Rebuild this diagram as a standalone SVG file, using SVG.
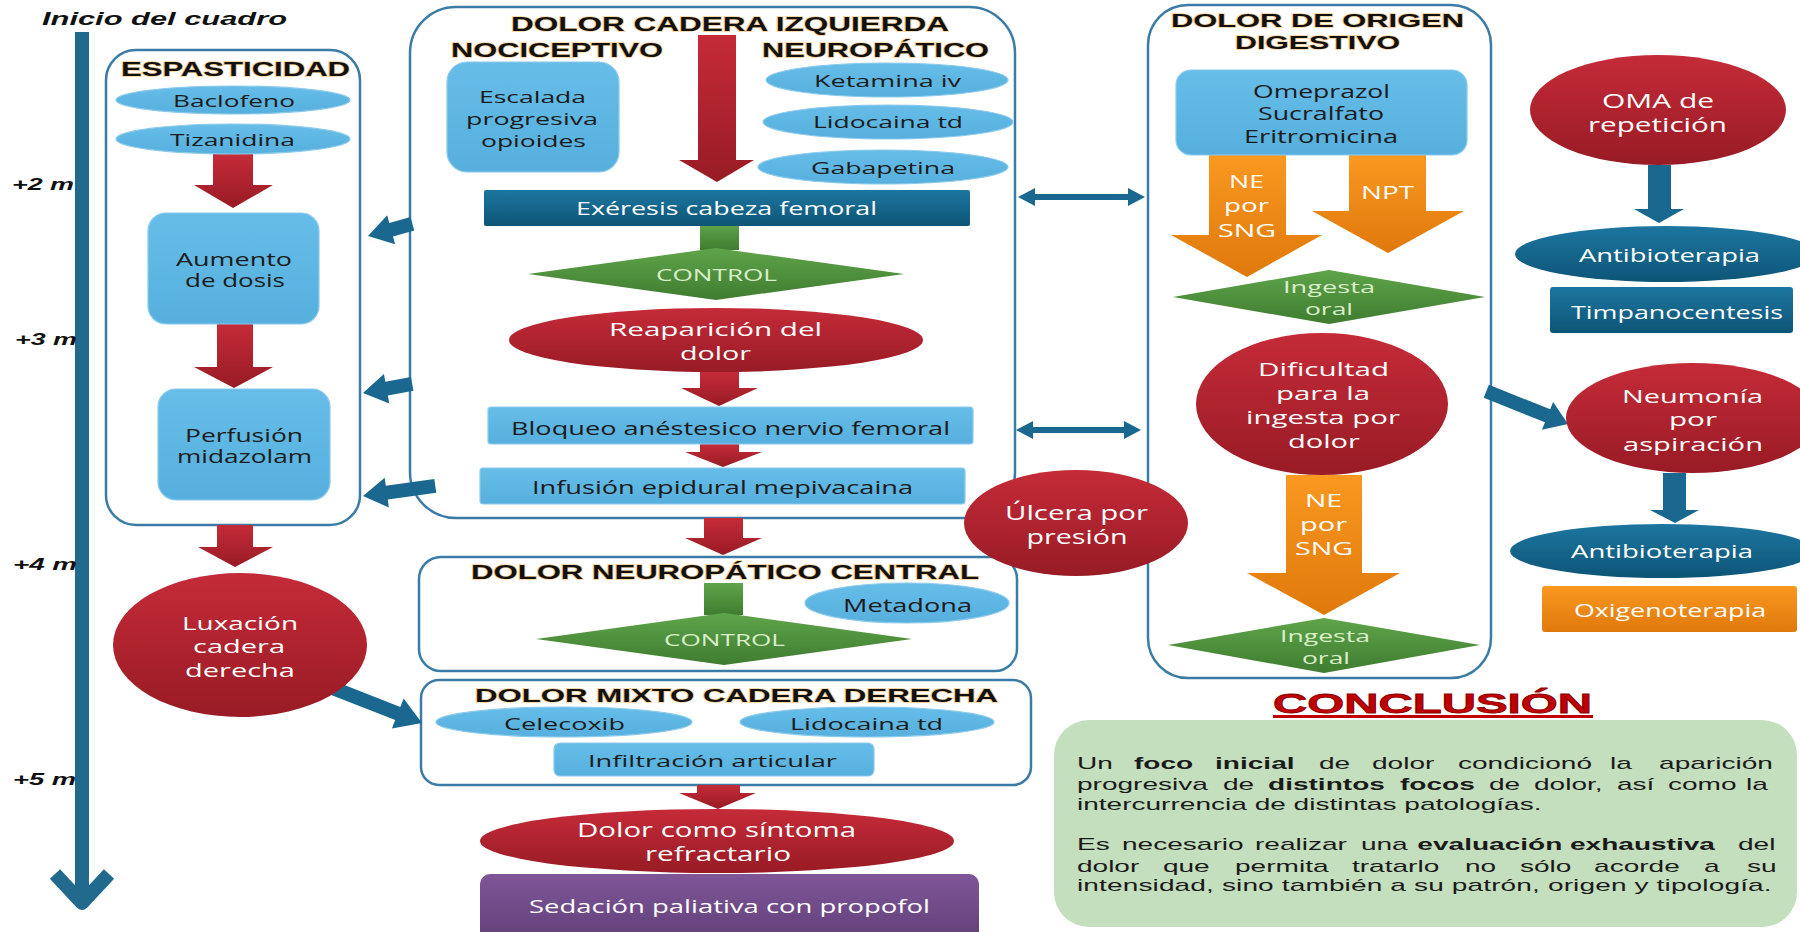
<svg xmlns="http://www.w3.org/2000/svg" width="1800" height="932" viewBox="0 0 1800 932">
<defs>
<linearGradient id="gRed" x1="0" y1="0" x2="0" y2="1"><stop offset="0" stop-color="#c52b38"/><stop offset="1" stop-color="#981b25"/></linearGradient>
<linearGradient id="gBlue" x1="0" y1="0" x2="0" y2="1"><stop offset="0" stop-color="#1d76a0"/><stop offset="1" stop-color="#0d5577"/></linearGradient>
<linearGradient id="gGreen" x1="0" y1="0" x2="0" y2="1"><stop offset="0" stop-color="#5fa44a"/><stop offset="1" stop-color="#3f7c30"/></linearGradient>
<linearGradient id="gOrange" x1="0" y1="0" x2="0" y2="1"><stop offset="0" stop-color="#fa9820"/><stop offset="1" stop-color="#df790c"/></linearGradient>
<linearGradient id="gPurple" x1="0" y1="0" x2="0" y2="1"><stop offset="0" stop-color="#7f5699"/><stop offset="1" stop-color="#5f3f76"/></linearGradient>
<linearGradient id="gLB" x1="0" y1="0" x2="0" y2="1"><stop offset="0" stop-color="#66bde8"/><stop offset="1" stop-color="#56afdd"/></linearGradient>
</defs>
<style>
.cont{fill:#fff;stroke:#3a7ca6;stroke-width:2.5}
.lb{fill:url(#gLB);stroke:#8ccaeb;stroke-width:1.2}
.red{fill:url(#gRed)}
.blue{fill:url(#gBlue)}
.green{fill:url(#gGreen)}
.orange{fill:url(#gOrange)}
.hd{font-family:"Liberation Sans",Arial,sans-serif;font-weight:bold;fill:#111;stroke:#f4b860;stroke-width:1.4;stroke-opacity:0.7;paint-order:stroke;text-anchor:middle}
.t{font-family:"Open Sans","Liberation Sans",sans-serif;text-anchor:middle}
.dk{fill:#1b1b1b}
.wh{fill:#fff}
.ctl{fill:#d9efc9}
.tl{font-family:"Liberation Sans",Arial,sans-serif;font-weight:bold;font-style:italic;fill:#111}
.cc{font-family:"Liberation Sans",Arial,sans-serif;font-size:17px;fill:#1a1a1a}
.b{font-weight:bold}
.arrRed{fill:url(#gRed)}
.arrBlue{fill:#1a6890}
</style>

<!-- timeline -->
<g id="timeline">
<text class="tl" x="42" y="25" font-size="18" textLength="245" lengthAdjust="spacingAndGlyphs">Inicio del cuadro</text>
<rect x="75" y="32" width="14" height="868" fill="#216a8e"/>
<polyline points="55,874 82,903 109,874" fill="none" stroke="#216a8e" stroke-width="14" stroke-linejoin="round"/>
<text class="tl" x="12" y="190" font-size="17" textLength="62" lengthAdjust="spacingAndGlyphs">+2 m</text>
<text class="tl" x="15" y="345" font-size="17" textLength="62" lengthAdjust="spacingAndGlyphs">+3 m</text>
<text class="tl" x="13" y="570" font-size="17" textLength="64" lengthAdjust="spacingAndGlyphs">+4 m</text>
<text class="tl" x="13" y="785" font-size="17" textLength="63" lengthAdjust="spacingAndGlyphs">+5 m</text>
</g>

<!-- containers -->
<g id="espasticidad">
<rect class="cont" x="106" y="50" width="254" height="475" rx="30"/>
<text class="hd" x="235.5" y="76" font-size="20" textLength="229" lengthAdjust="spacingAndGlyphs">ESPASTICIDAD</text>
</g>
<g id="dolor-cadera-izquierda">
<rect class="cont" x="410" y="7" width="605" height="511" rx="46"/>
<text class="hd" x="730" y="31" font-size="20" textLength="438" lengthAdjust="spacingAndGlyphs">DOLOR  CADERA IZQUIERDA</text>
<text class="hd" x="557" y="57" font-size="20" textLength="212" lengthAdjust="spacingAndGlyphs">NOCICEPTIVO</text>
<text class="hd" x="875.5" y="57" font-size="20" textLength="227" lengthAdjust="spacingAndGlyphs">NEUROPÁTICO</text>
</g>
<g id="dolor-neuropatico-central">
<rect class="cont" x="419" y="557" width="598" height="114" rx="22"/>
<text class="hd" x="725" y="579" font-size="20" textLength="508" lengthAdjust="spacingAndGlyphs">DOLOR NEUROPÁTICO CENTRAL</text>
</g>
<g id="dolor-mixto">
<rect class="cont" x="421" y="680" width="610" height="105" rx="18"/>
<text class="hd" x="736.5" y="702" font-size="19" textLength="523" lengthAdjust="spacingAndGlyphs">DOLOR MIXTO CADERA DERECHA</text>
</g>
<g id="dolor-digestivo">
<rect class="cont" x="1148" y="5" width="343" height="673" rx="40"/>
<text class="hd" x="1317.5" y="27" font-size="19" textLength="293" lengthAdjust="spacingAndGlyphs">DOLOR DE ORIGEN</text>
<text class="hd" x="1317.5" y="49" font-size="19" textLength="165" lengthAdjust="spacingAndGlyphs">DIGESTIVO</text>
</g>

<!-- connectors -->
<g id="connectors">
<polygon class="arrRed" points="213,154 253,154 253,185 273,185 233,208 194,185 213,185"/>
<polygon class="arrRed" points="217,324 253,324 253,367 273,367 234,388 194,367 217,367"/>
<polygon class="arrRed" points="217,525 253,525 253,547 273,547 235,567 198,547 217,547"/>
<polygon class="arrRed" points="698,35 736,35 736,160 754,160 717,182 679,160 698,160"/>
<polygon class="arrRed" points="700,372 739,372 739,388 758,388 719,406 681,388 700,388"/>
<polygon class="arrRed" points="700,444 739,444 739,452 762,452 723,467 685,452 700,452"/>
<polygon class="arrRed" points="704,518 743,518 743,538 762,538 723,555 685,538 704,538"/>
<polygon class="arrRed" points="697,785 740,785 740,793 756,793 718,809 679,793 697,793"/>
<polygon class="orange" points="1209,155 1286,155 1286,235 1322,235 1247,277 1171,235 1209,235"/>
<polygon class="orange" points="1349,155 1426,155 1426,211 1464,211 1388,253 1312,211 1349,211"/>
<polygon class="orange" points="1286,475 1362,475 1362,573 1400,573 1324,615 1247,573 1286,573"/>
<polygon class="arrBlue" points="1648,165 1671,165 1671,209 1684,209 1659,223 1634,209 1648,209"/>
<polygon class="arrBlue" points="1663,473 1686,473 1686,510 1699,510 1675,523 1650,510 1663,510"/>
<rect class="green" x="700" y="224" width="39" height="26"/>
<rect class="green" x="704" y="583" width="39" height="32"/>
<polygon class="arrBlue" transform="translate(368,236) rotate(164.7)" points="-46,-7 -24,-7 -24,-15 0,0 -24,15 -24,7 -46,7"/>
<polygon class="arrBlue" transform="translate(363,393) rotate(169.6)" points="-50,-7 -24,-7 -24,-15 0,0 -24,15 -24,7 -50,7"/>
<polygon class="arrBlue" transform="translate(363,496) rotate(172)" points="-73,-7 -24,-7 -24,-15 0,0 -24,15 -24,7 -73,7"/>
<polygon class="arrBlue" transform="translate(422,723) rotate(21.4)" points="-110,-7 -26,-7 -26,-16 0,0 -26,16 -26,7 -110,7"/>
<polygon class="arrBlue" transform="translate(1568,424) rotate(21.8)" points="-88,-7 -22,-7 -22,-15 0,0 -22,15 -22,7 -88,7"/>
<g class="arrBlue">
<rect x="1030" y="194" width="103" height="6"/>
<polygon points="1018,197 1035,188 1035,206"/>
<polygon points="1145,197 1128,188 1128,206"/>
<rect x="1028" y="427" width="101" height="6"/>
<polygon points="1016,430 1033,421 1033,439"/>
<polygon points="1141,430 1124,421 1124,439"/>
</g>
</g>

<!-- nodes: espasticidad -->
<g id="baclofeno"><ellipse class="lb" cx="233" cy="100" rx="117" ry="14"/><text class="t dk" x="234" y="107" font-size="17" textLength="122" lengthAdjust="spacingAndGlyphs">Baclofeno</text></g>
<g id="tizanidina"><ellipse class="lb" cx="233" cy="139" rx="117" ry="15"/><text class="t dk" x="232.5" y="146" font-size="17" textLength="125" lengthAdjust="spacingAndGlyphs">Tizanidina</text></g>
<g id="aumento-dosis"><rect class="lb" x="148" y="213" width="171" height="111" rx="18"/><text class="t dk" x="234" y="266" font-size="18" textLength="116" lengthAdjust="spacingAndGlyphs">Aumento</text><text class="t dk" x="235" y="287" font-size="18" textLength="100" lengthAdjust="spacingAndGlyphs">de dosis</text></g>
<g id="perfusion-midazolam"><rect class="lb" x="158" y="389" width="172" height="111" rx="18"/><text class="t dk" x="244" y="442" font-size="18" textLength="118" lengthAdjust="spacingAndGlyphs">Perfusión</text><text class="t dk" x="244.5" y="463" font-size="18" textLength="135" lengthAdjust="spacingAndGlyphs">midazolam</text></g>
<g id="luxacion"><ellipse class="red" cx="240" cy="645" rx="127" ry="72"/><text class="t wh" x="240" y="630" font-size="19" textLength="116" lengthAdjust="spacingAndGlyphs">Luxación</text><text class="t wh" x="239" y="653" font-size="19" textLength="92" lengthAdjust="spacingAndGlyphs">cadera</text><text class="t wh" x="240" y="677" font-size="19" textLength="110" lengthAdjust="spacingAndGlyphs">derecha</text></g>

<!-- nodes: cadera izquierda -->
<g id="escalada"><rect class="lb" x="447" y="62" width="172" height="110" rx="20"/><text class="t dk" x="532.5" y="103" font-size="17" textLength="107" lengthAdjust="spacingAndGlyphs">Escalada</text><text class="t dk" x="532" y="125" font-size="17" textLength="132" lengthAdjust="spacingAndGlyphs">progresiva</text><text class="t dk" x="533.5" y="147" font-size="17" textLength="105" lengthAdjust="spacingAndGlyphs">opioides</text></g>
<g id="ketamina"><ellipse class="lb" cx="887" cy="80" rx="121" ry="17"/><text class="t dk" x="887.5" y="87" font-size="17" textLength="147" lengthAdjust="spacingAndGlyphs">Ketamina iv</text></g>
<g id="lidocaina1"><ellipse class="lb" cx="888" cy="122" rx="125" ry="17"/><text class="t dk" x="888" y="128" font-size="17" textLength="150" lengthAdjust="spacingAndGlyphs">Lidocaina td</text></g>
<g id="gabapetina"><ellipse class="lb" cx="883" cy="167" rx="125" ry="17"/><text class="t dk" x="883" y="174" font-size="17" textLength="144" lengthAdjust="spacingAndGlyphs">Gabapetina</text></g>
<g id="exeresis"><rect class="blue" x="484" y="190" width="486" height="36" rx="2"/><text class="t wh" x="726.5" y="215" font-size="18" textLength="301" lengthAdjust="spacingAndGlyphs">Exéresis cabeza femoral</text></g>
<g id="control1"><polygon class="green" points="528,274 716,248 904,274 716,300"/><text class="t ctl" x="716.5" y="281" font-size="17" textLength="121" lengthAdjust="spacingAndGlyphs">CONTROL</text></g>
<g id="reaparicion"><ellipse class="red" cx="716" cy="340" rx="207" ry="32"/><text class="t wh" x="715.5" y="336" font-size="19" textLength="213" lengthAdjust="spacingAndGlyphs">Reaparición del</text><text class="t wh" x="715.5" y="360" font-size="19" textLength="71" lengthAdjust="spacingAndGlyphs">dolor</text></g>
<g id="bloqueo"><rect class="lb" x="488" y="407" width="485" height="37" rx="3"/><text class="t dk" x="730.5" y="435" font-size="18" textLength="439" lengthAdjust="spacingAndGlyphs">Bloqueo anéstesico nervio femoral</text></g>
<g id="infusion"><rect class="lb" x="480" y="468" width="485" height="36" rx="3"/><text class="t dk" x="722.5" y="494" font-size="18" textLength="381" lengthAdjust="spacingAndGlyphs">Infusión epidural mepivacaina</text></g>

<!-- nodes: neuropatico central -->
<g id="metadona"><ellipse class="lb" cx="907" cy="603" rx="102" ry="20"/><text class="t dk" x="907.5" y="612" font-size="18" textLength="129" lengthAdjust="spacingAndGlyphs">Metadona</text></g>
<g id="control2"><polygon class="green" points="536,639 724,613 912,639 724,665"/><text class="t ctl" x="724.5" y="646" font-size="17" textLength="121" lengthAdjust="spacingAndGlyphs">CONTROL</text></g>

<!-- nodes: mixto -->
<g id="celecoxib"><ellipse class="lb" cx="564" cy="722" rx="128" ry="15"/><text class="t dk" x="564.5" y="730" font-size="17" textLength="121" lengthAdjust="spacingAndGlyphs">Celecoxib</text></g>
<g id="lidocaina2"><ellipse class="lb" cx="867" cy="722" rx="127" ry="15"/><text class="t dk" x="866.5" y="730" font-size="17" textLength="153" lengthAdjust="spacingAndGlyphs">Lidocaina td</text></g>
<g id="infiltracion"><rect class="lb" x="554" y="743" width="320" height="33" rx="6"/><text class="t dk" x="712.5" y="767" font-size="17" textLength="249" lengthAdjust="spacingAndGlyphs">Infiltración articular</text></g>
<g id="dolor-refractario"><ellipse class="red" cx="717" cy="841" rx="237" ry="32"/><text class="t wh" x="716.5" y="837" font-size="20" textLength="279" lengthAdjust="spacingAndGlyphs">Dolor como síntoma</text><text class="t wh" x="718" y="861" font-size="20" textLength="146" lengthAdjust="spacingAndGlyphs">refractario</text></g>
<g id="sedacion"><rect x="480" y="874" width="499" height="70" rx="10" fill="url(#gPurple)"/><text class="t wh" x="729.5" y="913" font-size="18" textLength="401" lengthAdjust="spacingAndGlyphs">Sedación paliativa con propofol</text></g>

<!-- nodes: digestivo -->
<g id="omeprazol"><rect class="lb" x="1176" y="70" width="291" height="85" rx="15"/><text class="t dk" x="1321.5" y="98" font-size="18" textLength="137" lengthAdjust="spacingAndGlyphs">Omeprazol</text><text class="t dk" x="1321" y="120" font-size="18" textLength="126" lengthAdjust="spacingAndGlyphs">Sucralfato</text><text class="t dk" x="1321" y="143" font-size="18" textLength="154" lengthAdjust="spacingAndGlyphs">Eritromicina</text></g>
<g id="ne-sng1"><text class="t wh" x="1246.5" y="188" font-size="19" textLength="35" lengthAdjust="spacingAndGlyphs">NE</text><text class="t wh" x="1246.5" y="212" font-size="19" textLength="45" lengthAdjust="spacingAndGlyphs">por</text><text class="t wh" x="1247" y="237" font-size="19" textLength="58" lengthAdjust="spacingAndGlyphs">SNG</text></g>
<g id="npt"><text class="t wh" x="1387.5" y="199" font-size="19" textLength="53" lengthAdjust="spacingAndGlyphs">NPT</text></g>
<g id="ingesta1"><polygon class="green" points="1173,297 1329,270 1485,297 1329,324"/><text class="t ctl" x="1329" y="293" font-size="17" textLength="92" lengthAdjust="spacingAndGlyphs">Ingesta</text><text class="t ctl" x="1329" y="315" font-size="17" textLength="48" lengthAdjust="spacingAndGlyphs">oral</text></g>
<g id="dificultad"><ellipse class="red" cx="1322" cy="404" rx="126" ry="71"/><text class="t wh" x="1323.5" y="376" font-size="19" textLength="131" lengthAdjust="spacingAndGlyphs">Dificultad</text><text class="t wh" x="1323" y="400" font-size="19" textLength="94" lengthAdjust="spacingAndGlyphs">para la</text><text class="t wh" x="1323" y="424" font-size="19" textLength="154" lengthAdjust="spacingAndGlyphs">ingesta por</text><text class="t wh" x="1324" y="448" font-size="19" textLength="72" lengthAdjust="spacingAndGlyphs">dolor</text></g>
<g id="ne-sng2"><text class="t wh" x="1323.5" y="507" font-size="19" textLength="37" lengthAdjust="spacingAndGlyphs">NE</text><text class="t wh" x="1323.5" y="531" font-size="19" textLength="47" lengthAdjust="spacingAndGlyphs">por</text><text class="t wh" x="1324" y="555" font-size="19" textLength="58" lengthAdjust="spacingAndGlyphs">SNG</text></g>
<g id="ingesta2"><polygon class="green" points="1168,645 1324,618 1480,645 1324,673"/><text class="t ctl" x="1325" y="642" font-size="17" textLength="90" lengthAdjust="spacingAndGlyphs">Ingesta</text><text class="t ctl" x="1326" y="664" font-size="17" textLength="48" lengthAdjust="spacingAndGlyphs">oral</text></g>

<g id="ulcera"><ellipse class="red" cx="1076" cy="523" rx="112" ry="53"/><text class="t wh" x="1076.5" y="520" font-size="20" textLength="143" lengthAdjust="spacingAndGlyphs">Úlcera por</text><text class="t wh" x="1077" y="544" font-size="20" textLength="101" lengthAdjust="spacingAndGlyphs">presión</text></g>

<!-- nodes: right column -->
<g id="oma"><ellipse class="red" cx="1658" cy="110" rx="128" ry="55"/><text class="t wh" x="1658" y="108" font-size="20" textLength="112" lengthAdjust="spacingAndGlyphs">OMA de</text><text class="t wh" x="1657.5" y="132" font-size="20" textLength="139" lengthAdjust="spacingAndGlyphs">repetición</text></g>
<g id="antibioterapia1"><ellipse class="blue" cx="1666" cy="254" rx="151" ry="28"/><text class="t wh" x="1669.5" y="262" font-size="18" textLength="181" lengthAdjust="spacingAndGlyphs">Antibioterapia</text></g>
<g id="timpanocentesis"><rect class="blue" x="1550" y="287" width="243" height="46" rx="3"/><text class="t wh" x="1677" y="319" font-size="18" textLength="212" lengthAdjust="spacingAndGlyphs">Timpanocentesis</text></g>
<g id="neumonia"><ellipse class="red" cx="1693" cy="418" rx="127" ry="55"/><text class="t wh" x="1692.5" y="403" font-size="19" textLength="141" lengthAdjust="spacingAndGlyphs">Neumonía</text><text class="t wh" x="1693" y="426" font-size="19" textLength="48" lengthAdjust="spacingAndGlyphs">por</text><text class="t wh" x="1693" y="451" font-size="19" textLength="140" lengthAdjust="spacingAndGlyphs">aspiración</text></g>
<g id="antibioterapia2"><ellipse class="blue" cx="1662" cy="551" rx="152" ry="27"/><text class="t wh" x="1662" y="558" font-size="18" textLength="182" lengthAdjust="spacingAndGlyphs">Antibioterapia</text></g>
<g id="oxigenoterapia"><rect class="orange" x="1542" y="586" width="255" height="46" rx="3"/><text class="t wh" x="1670" y="617" font-size="18" textLength="192" lengthAdjust="spacingAndGlyphs">Oxigenoterapia</text></g>

<!-- conclusion -->
<g id="conclusion">
<text x="1432.5" y="713" font-family="'Liberation Sans',Arial,sans-serif" font-weight="bold" font-size="28" fill="#c00000" stroke="#8a0000" stroke-width="0.8" text-anchor="middle" textLength="319" lengthAdjust="spacingAndGlyphs">CONCLUSIÓN</text>
<rect x="1273" y="715" width="320" height="3" fill="#c00000"/>
<rect x="1054" y="720" width="743" height="207" rx="35" fill="#c4dfbd"/>
<g transform="scale(1.65 1)" class="cc">
<text y="769"><tspan x="652.7">Un</tspan><tspan class="b" x="687.3">foco</tspan><tspan class="b" x="736.4">inicial</tspan><tspan x="799.4">de</tspan><tspan x="831.5">dolor</tspan><tspan x="883.6">condicionó</tspan><tspan x="975.8">la</tspan><tspan x="1005.5">aparición</tspan></text>
<text y="790"><tspan x="652.7">progresiva</tspan><tspan x="741.2">de</tspan><tspan class="b" x="768.5">distintos</tspan><tspan class="b" x="848.5">focos</tspan><tspan x="902.4">de</tspan><tspan x="929.7">dolor,</tspan><tspan x="980">así</tspan><tspan x="1010.9">como</tspan><tspan x="1058.2">la</tspan></text>
<text x="652.7" y="810">intercurrencia de distintas patologías.</text>
<text y="850"><tspan x="652.7">Es</tspan><tspan x="680">necesario</tspan><tspan x="760.6">realizar</tspan><tspan x="824.8">una</tspan><tspan class="b" x="859">evaluación</tspan><tspan class="b" x="951.5">exhaustiva</tspan><tspan x="1053.3">del</tspan></text>
<text y="872"><tspan x="652.7">dolor</tspan><tspan x="704.8">que</tspan><tspan x="748.5">permita</tspan><tspan x="819.4">tratarlo</tspan><tspan x="887.9">no</tspan><tspan x="921.2">sólo</tspan><tspan x="966.1">acorde</tspan><tspan x="1032.7">a</tspan><tspan x="1058.8">su</tspan></text>
<text x="652.7" y="891" textLength="421" lengthAdjust="spacing">intensidad, sino también a su patrón, origen y tipología.</text>
</g>
</g>
</svg>
